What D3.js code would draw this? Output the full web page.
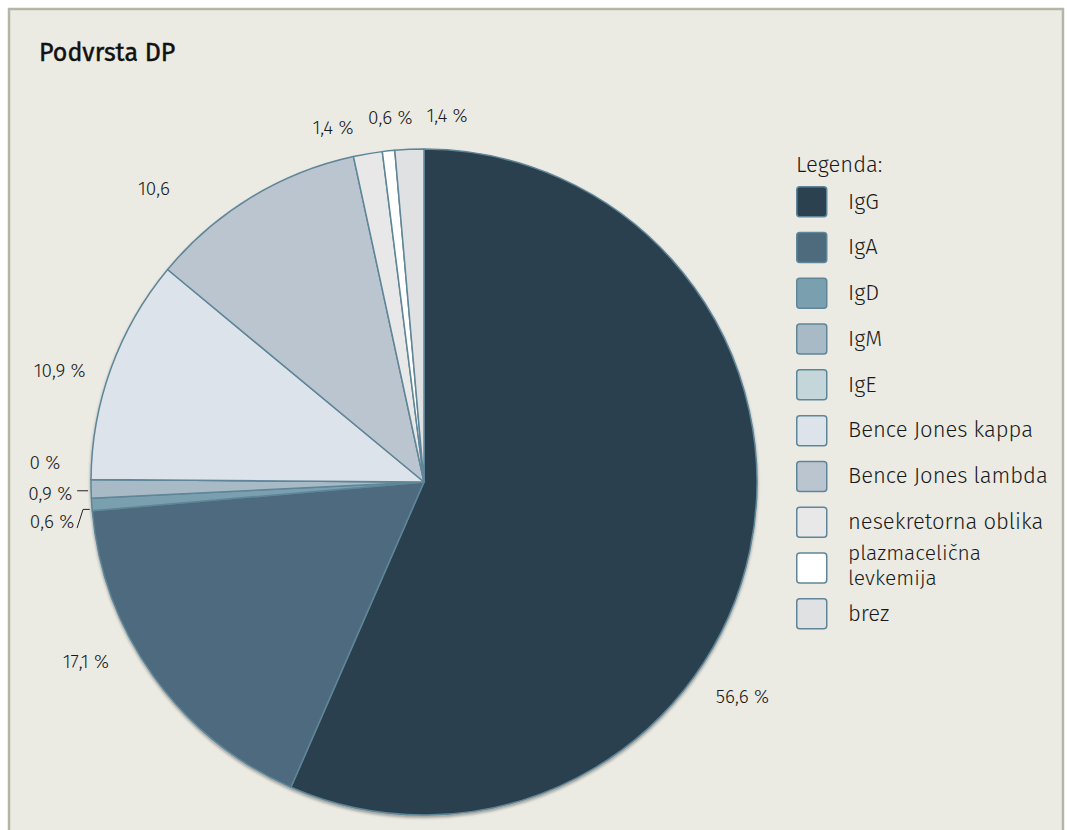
<!DOCTYPE html>
<html>
<head>
<meta charset="utf-8">
<script src="https://cdn.jsdelivr.net/npm/d3@7"></script>
<style>
  html, body { margin: 0; padding: 0; background: #ffffff; }
  svg { display: block; font-family: "Fira Sans", "Noto Sans", sans-serif; }
</style>
</head>
<body>
<svg id="chart" width="1067" height="830"></svg>
<script>
// Subtypes of multiple myeloma (share of patients, %)
const categories = ["IgG", "IgA", "IgD", "IgM", "IgE", "Bence Jones kappa", "Bence Jones lambda", "nesekretorna oblika", "plazmacelična levkemija", "brez"];
const values = [56.6, 17.1, 0.6, 0.9, 0, 10.9, 10.6, 1.4, 0.6, 1.4];
const valueLabels = ["56,6 %", "17,1 %", "0,6 %", "0,9 %", "0 %", "10,9 %", "10,6", "1,4 %", "0,6 %", "1,4 %"];
const colors = ["#2c4150", "#4e6b7e", "#7aa0b0", "#a7bac5", "#c5d6da", "#dce3ea", "#bbc5cf", "#e7e8e7", "#ffffff", "#e0e1e3"];

// Where each value label sits: angle (degrees, clockwise from top) and distance from the centre
const labelSpots = [
  [124, 384], [242, 383], [264.0, 374], [268.2, 374], [273.0, 379.5],
  [287, 381], [317.4, 399], [345.6, 366], [354.7, 366], [3.6, 367]
];
// Slices whose labels are tied to the slice with a short leader line
const leaderIdx = [2, 3];

const W = 1067, H = 830;
const cx = 424, cy = 482, R = 333;

const svg = d3.select("#chart");

// panel
svg.append("rect")
  .attr("x", 9).attr("y", 9).attr("width", 1054).attr("height", 840)
  .attr("fill", "#ebebe4").attr("stroke", "#b6b6a6").attr("stroke-width", 2.5);

svg.append("text")
  .attr("x", 39).attr("y", 61)
  .attr("font-size", 25).attr("font-weight", 400).attr("fill", "#111")
  .attr("stroke", "#111").attr("stroke-width", 0.45)
  .text("Podvrsta DP");

const data = categories.map((c, i) => ({ name: c, value: values[i], label: valueLabels[i], color: colors[i], spot: labelSpots[i] }));

const pie = d3.pie().sort(null).value(d => d.value);
const arcs = pie(data);
const arc = d3.arc().innerRadius(0).outerRadius(R);

const g = svg.append("g").attr("transform", `translate(${cx},${cy})`);

// soft shadow under the pie
const defs = svg.append("defs");
const f = defs.append("filter").attr("id", "shadow").attr("x", "-10%").attr("y", "-10%").attr("width", "120%").attr("height", "120%");
f.append("feGaussianBlur").attr("in", "SourceAlpha").attr("stdDeviation", 1.5);
f.append("feOffset").attr("dx", 0).attr("dy", 1.5).attr("result", "b");
f.append("feComponentTransfer").append("feFuncA").attr("type", "linear").attr("slope", 0.35);
const fm = f.append("feMerge");
fm.append("feMergeNode");
fm.append("feMergeNode").attr("in", "SourceGraphic");

const slices = g.append("g").attr("filter", "url(#shadow)");
slices.selectAll("path")
  .data(arcs)
  .join("path")
  .attr("d", arc)
  .attr("fill", d => d.data.color)
  .attr("stroke", "#5f8698")
  .attr("stroke-width", 1.5)
  .attr("stroke-linejoin", "round");

const rad = a => a * Math.PI / 180;
const labels = g.append("g").attr("font-size", 19).attr("font-weight", 300).attr("fill", "#1a1a1a");
arcs.forEach((d, i) => {
  const [ang, dist] = d.data.spot;
  const x = dist * Math.sin(rad(ang));
  const y = -dist * Math.cos(rad(ang));
  labels.append("text")
    .attr("x", x).attr("y", y)
    .attr("text-anchor", "middle").attr("dominant-baseline", "central")
    .text(d.data.label);
});

// leader lines for the two thin slices on the left
leaderIdx.forEach(i => {
  const d = arcs[i];
  const mid = (d.startAngle + d.endAngle) / 2;
  const ex = (R - 1) * Math.sin(mid), ey = -(R - 1) * Math.cos(mid);
  const [ang, dist] = d.data.spot;
  const tx = dist * Math.sin(rad(ang)), ty = -dist * Math.cos(rad(ang));
  let pts;
  if (i === 3) {
    pts = [[tx + 27, ey + 2], [ex - 4, ey + 2]];
  } else {
    pts = [[tx + 25, ty + 7], [tx + 31, ey + 5], [ex - 3, ey + 5]];
  }
  g.append("path")
    .attr("d", d3.line()(pts))
    .attr("fill", "none").attr("stroke", "#222").attr("stroke-width", 1);
});

// legend
const lg = svg.append("g").attr("transform", "translate(796,0)").attr("font-weight", 300);
lg.append("text").attr("x", 0).attr("y", 172).attr("font-size", 22).attr("fill", "#1a1a1a").text("Legenda:");
const ly = d3.scalePoint().domain(categories).range([201, 613]);
const items = lg.selectAll("g.item").data(data).join("g").attr("class", "item")
  .attr("transform", d => `translate(0,${ly(d.name)})`);
items.append("rect")
  .attr("x", 0.75).attr("y", -14.25).attr("width", 30).attr("height", 30).attr("rx", 3)
  .attr("fill", d => d.color).attr("stroke", "#5f8698").attr("stroke-width", 1.5);
items.each(function(d) {
  const t = d3.select(this).append("text")
    .attr("x", 52).attr("font-size", 22).attr("fill", "#1a1a1a");
  const words = d.name === "plazmacelična levkemija" ? ["plazmacelična", "levkemija"] : [d.name];
  if (words.length === 1) {
    t.attr("y", 0).attr("dominant-baseline", "central").text(words[0]);
  } else {
    t.attr("font-size", 21);
    t.append("tspan").attr("x", 52).attr("y", -7).text(words[0]);
    t.append("tspan").attr("x", 52).attr("y", 18).text(words[1]);
  }
});
</script>
</body>
</html>
